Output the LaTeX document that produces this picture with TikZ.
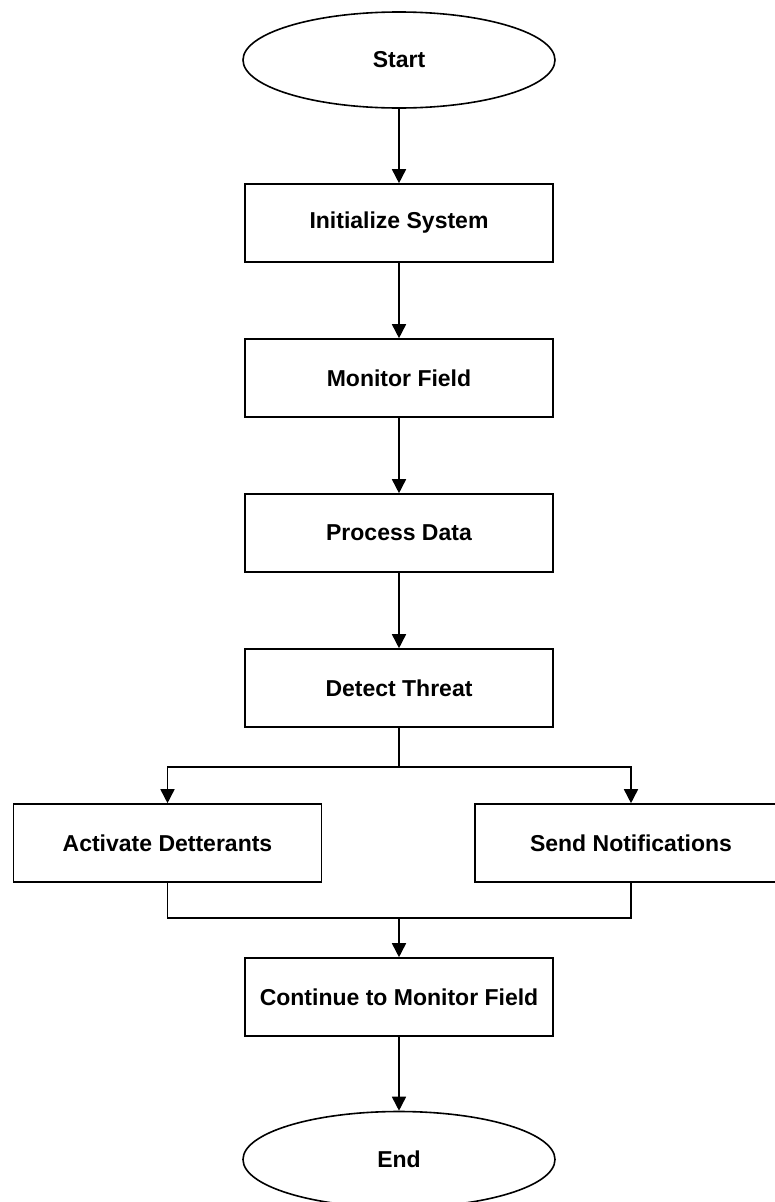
\documentclass[tikz,border=0pt]{standalone}
\usepackage{fontspec}
\setmainfont{Liberation Sans}
\usetikzlibrary{arrows.meta,positioning,shapes.geometric}

\begin{document}
\begin{tikzpicture}[node distance=155pt,on grid,line width=1.6pt,
		font=\fontsize{23}{27}\selectfont\bfseries,
		terminal/.style={ellipse,draw,minimum width=312pt,minimum height=96pt,inner sep=0pt},
		stepbox/.style={rectangle,draw,minimum width=308pt,minimum height=78pt,inner sep=0pt},
		flow/.style={-{Triangle[width=14pt,length=14pt]}}]
			\useasboundingbox (0,0) rectangle (774pt,-1202pt);
			\node[terminal] (start) at (399pt,-60pt) {Start};
			\node[stepbox] (init) [below=163pt of start] {Initialize System};
			\node[stepbox] (monitor) [below=of init] {Monitor Field};
			\node[stepbox] (data) [below=of monitor] {Process Data};
			\node[stepbox] (detect) [below=of data] {Detect Threat};
			\node[stepbox] (activate) [below left=155pt and 231.5pt of detect] {Activate Detterants};
			\node[stepbox, minimum width=312pt] (send) [below right=155pt and 232pt of detect] {Send Notifications};
			\node[stepbox] (cont) [below=309pt of detect] {Continue to Monitor Field};
			\node[terminal] (end) [below=162.5pt of cont] {End};
			\coordinate[below=39pt of detect.south] (split);
			\coordinate[above=39pt of cont.north] (merge);
			\path[flow]
				(start) edge (init)
				(init) edge (monitor)
				(monitor) edge (data)
				(data) edge (detect);
			\draw (detect) -- (split);
			\draw[flow] (split) -| (activate);
			\draw[flow] (split) -| (send);
			\draw (activate) |- (merge) -| (send);
			\draw[flow] (merge) -- (cont);
			\draw[flow] (cont) -- (end);
		\end{tikzpicture}
\end{document}
